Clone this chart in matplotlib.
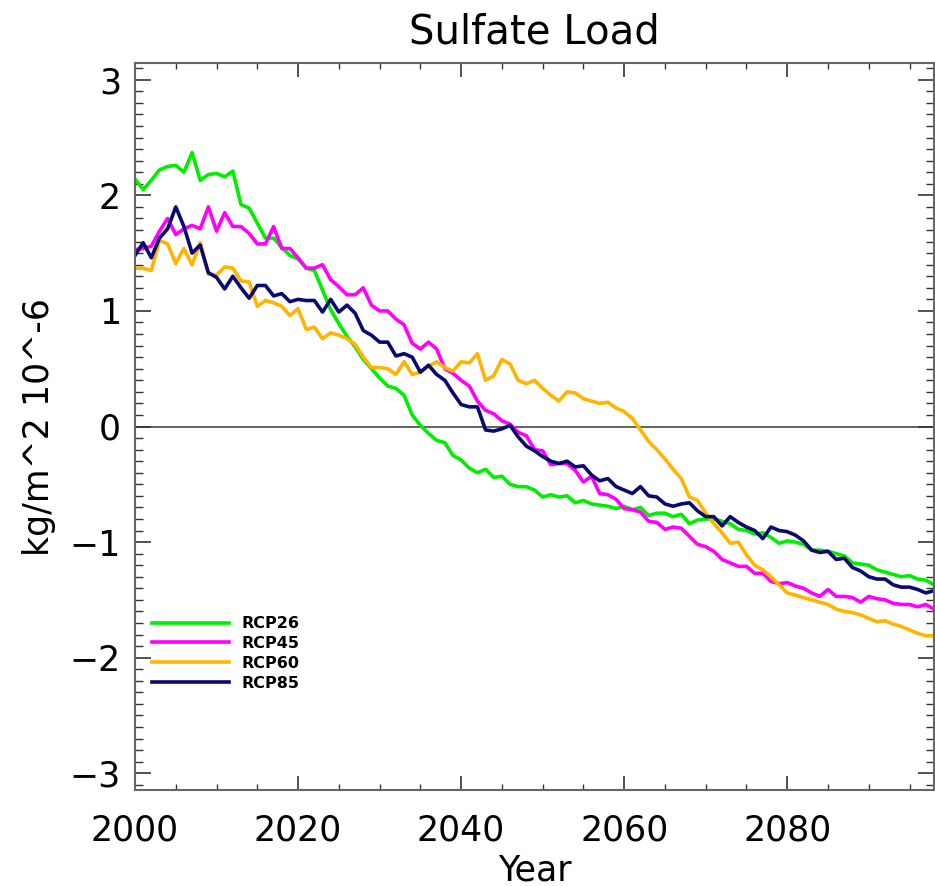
import matplotlib
matplotlib.use("Agg")
import matplotlib.pyplot as plt
from matplotlib.ticker import MultipleLocator

# anos 2000..2098
anios = list(range(2000, 2099))

rcp26 = [2.14, 2.05, 2.13, 2.22, 2.25, 2.26, 2.20, 2.37, 2.13, 2.18,
         2.19, 2.16, 2.21, 1.92, 1.89, 1.76, 1.63, 1.63, 1.55, 1.48,
         1.45, 1.37, 1.35, 1.18, 1.01, 0.89, 0.78, 0.69, 0.58, 0.50,
         0.42, 0.35, 0.33, 0.27, 0.10, 0.01, -0.06, -0.12, -0.14, -0.25,
         -0.29, -0.36, -0.40, -0.37, -0.44, -0.43, -0.50, -0.52, -0.52, -0.55,
         -0.61, -0.59, -0.61, -0.60, -0.66, -0.64, -0.67, -0.68, -0.69, -0.71,
         -0.69, -0.72, -0.70, -0.77, -0.75, -0.75, -0.78, -0.76, -0.84, -0.81,
         -0.80, -0.80, -0.82, -0.84, -0.89, -0.90, -0.93, -0.92, -0.96, -1.01,
         -0.99, -1.00, -1.02, -1.07, -1.07, -1.08, -1.10, -1.12, -1.18, -1.19,
         -1.20, -1.24, -1.26, -1.28, -1.30, -1.29, -1.32, -1.33, -1.37]

rcp45 = [1.53, 1.54, 1.56, 1.69, 1.80, 1.66, 1.71, 1.74, 1.71, 1.90,
         1.69, 1.85, 1.73, 1.73, 1.67, 1.58, 1.58, 1.73, 1.54, 1.54,
         1.46, 1.37, 1.37, 1.40, 1.27, 1.21, 1.14, 1.14, 1.20, 1.05,
         1.00, 1.00, 0.93, 0.88, 0.72, 0.67, 0.73, 0.67, 0.50, 0.46,
         0.40, 0.35, 0.22, 0.14, 0.11, 0.05, 0.02, -0.05, -0.08, -0.20,
         -0.21, -0.33, -0.32, -0.32, -0.38, -0.48, -0.43, -0.58, -0.59, -0.63,
         -0.71, -0.72, -0.74, -0.82, -0.83, -0.89, -0.87, -0.88, -0.95, -1.02,
         -1.04, -1.08, -1.15, -1.18, -1.21, -1.21, -1.27, -1.27, -1.34, -1.36,
         -1.35, -1.38, -1.40, -1.44, -1.47, -1.41, -1.47, -1.47, -1.48, -1.52,
         -1.47, -1.49, -1.50, -1.53, -1.54, -1.54, -1.56, -1.54, -1.58]

rcp60 = [1.37, 1.37, 1.35, 1.61, 1.58, 1.41, 1.54, 1.40, 1.59, 1.32,
         1.31, 1.38, 1.37, 1.26, 1.25, 1.04, 1.09, 1.07, 1.04, 0.96,
         1.02, 0.84, 0.86, 0.76, 0.81, 0.79, 0.76, 0.71, 0.60, 0.51,
         0.51, 0.50, 0.45, 0.56, 0.45, 0.47, 0.52, 0.56, 0.51, 0.48,
         0.56, 0.55, 0.63, 0.40, 0.44, 0.58, 0.54, 0.40, 0.37, 0.40,
         0.33, 0.27, 0.22, 0.30, 0.29, 0.24, 0.22, 0.20, 0.21, 0.16,
         0.13, 0.07, -0.03, -0.13, -0.20, -0.28, -0.37, -0.45, -0.61, -0.64,
         -0.75, -0.84, -0.92, -1.01, -1.00, -1.11, -1.20, -1.24, -1.30, -1.37,
         -1.44, -1.46, -1.48, -1.50, -1.52, -1.54, -1.58, -1.60, -1.61, -1.63,
         -1.66, -1.69, -1.68, -1.71, -1.73, -1.76, -1.79, -1.81, -1.81]

rcp85 = [1.48, 1.59, 1.46, 1.63, 1.71, 1.90, 1.73, 1.50, 1.57, 1.33,
         1.29, 1.19, 1.30, 1.20, 1.11, 1.22, 1.22, 1.13, 1.15, 1.08,
         1.10, 1.09, 1.09, 0.99, 1.10, 0.99, 1.05, 0.98, 0.83, 0.79,
         0.73, 0.73, 0.61, 0.63, 0.60, 0.47, 0.53, 0.45, 0.40, 0.29,
         0.19, 0.17, 0.17, -0.03, -0.04, -0.02, 0.01, -0.09, -0.17, -0.21,
         -0.26, -0.30, -0.32, -0.30, -0.35, -0.34, -0.42, -0.47, -0.45, -0.52,
         -0.55, -0.58, -0.52, -0.60, -0.61, -0.67, -0.69, -0.67, -0.66, -0.73,
         -0.78, -0.78, -0.86, -0.78, -0.83, -0.87, -0.90, -0.97, -0.87, -0.90,
         -0.91, -0.94, -0.99, -1.07, -1.09, -1.08, -1.15, -1.14, -1.22, -1.25,
         -1.30, -1.32, -1.32, -1.37, -1.39, -1.39, -1.41, -1.44, -1.42]

escenarios = ["RCP26", "RCP45", "RCP60", "RCP85"]
colores = ["#00ee00", "#ff00ff", "#ffb400", "#0a0a6e"]
series = [rcp26, rcp45, rcp60, rcp85]

fig = plt.figure(figsize=(9.35, 8.86), dpi=100)
ax = fig.add_axes([135/935, 96/886, 799/935, 727/886])

# linea del cero
ax.axhline(0, color="#555555", lw=1.3, zorder=1)

for nombre, col, datos in zip(escenarios, colores, series):
    ax.plot(anios, datos, color=col, lw=2.6, label=nombre, zorder=2)

ax.set_xlim(2000, 2098)
ax.set_ylim(-3.145, 3.145)

ax.xaxis.set_major_locator(MultipleLocator(20))
ax.xaxis.set_minor_locator(MultipleLocator(5))
ax.yaxis.set_major_locator(MultipleLocator(1))
ax.yaxis.set_minor_locator(MultipleLocator(0.1))

ax.tick_params(axis="both", which="both", direction="in", top=True, right=True,
               colors="#333333", labelcolor="black", labelsize=25)
ax.tick_params(axis="x", which="major", length=10, width=1.2, pad=17)
ax.tick_params(axis="x", which="minor", length=4.5, width=1.0)
ax.tick_params(axis="y", which="major", length=11.5, width=1.2, pad=10)
ax.tick_params(axis="y", which="minor", length=5.5, width=1.0)
ax.tick_params(axis="y", which="both", labelright=False)

for s in ax.spines.values():
    s.set_color("#666666")
    s.set_linewidth(1.5)

ax.set_title("Sulfate Load", fontsize=29, pad=14)
ax.set_xlabel("Year", fontsize=25, labelpad=4)
ax.set_ylabel("kg/m^2 10^-6", fontsize=25, labelpad=10)

ax.legend(loc="center left", bbox_to_anchor=(0.021, 0.188), frameon=False,
          prop={"size": 11.5, "weight": "bold"}, handlelength=4.85,
          handletextpad=0.75, labelspacing=0.3, borderpad=0, borderaxespad=0)

fig.savefig("out.png", dpi=100)
